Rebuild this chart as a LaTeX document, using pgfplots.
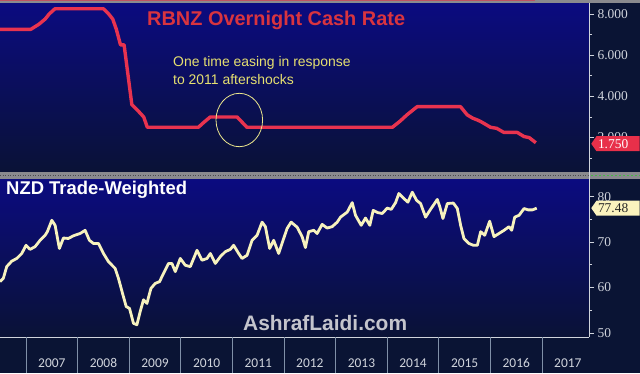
\documentclass[border=0pt]{standalone}
\usepackage{fontspec}
\setmainfont{Liberation Sans}
\newfontfamily\numfont{Liberation Serif}
\newfontfamily\yearfont{Carlito}
\usepackage{pgfplots}
\pgfplotsset{compat=1.18}
\usetikzlibrary{shapes.symbols}
\definecolor{bgnavy}{HTML}{0A1434}
\definecolor{paneltop}{HTML}{0B0B80}
\definecolor{panelbot}{HTML}{0A1236}
\definecolor{ocrred}{HTML}{E8334F}
\definecolor{titlered}{HTML}{D9343F}
\definecolor{twicream}{HTML}{F7F2BE}
\definecolor{annoyellow}{HTML}{E6E070}
\definecolor{ticktext}{HTML}{D0D4DC}
\definecolor{stripgray}{HTML}{8A8A8E}
\definecolor{sepgray}{HTML}{8090A8}
\definecolor{tagred}{HTML}{E8304A}
\definecolor{tagcream}{HTML}{FBF3BE}
\definecolor{wmgray}{HTML}{C4C4CC}
\begin{document}
\begin{tikzpicture}[x=1bp,y=1bp]
\useasboundingbox (0,0) rectangle (640,373);
\fill[bgnavy] (0,0) rectangle (640,373);
\fill[stripgray] (0,370) rectangle (640,373);
\draw[ocrred!60!gray, line width=1bp] (0,372.5) -- (535,372.5);
\fill[stripgray] (0,194) rectangle (640,201);
\draw[stripgray!55!black, line width=1.5bp, dash pattern=on 1bp off 1.5bp] (0,197.5) -- (589,197.5);
\draw[green!45!gray, line width=1.5bp, dash pattern=on 2bp off 2bp] (591,197.5) -- (640,197.5);
% ---------- top panel: RBNZ OCR ----------
\begin{axis}[
  at={(0bp,201bp)}, anchor=south west, scale only axis,
  width=589bp, height=169bp,
  xmin=2006.495, xmax=2017.91, ymin=0.33, ymax=8.53,
  axis background/.style={top color=paneltop, bottom color=panelbot},
  axis line style={draw=none},
  xtick=\empty,
  ytick={2,4,6,8}, yticklabels={2.000,4.000,6.000,8.000},
  minor ytick={1,3,5,7},
  ytick pos=right, yticklabel pos=right,
  tick align=outside,
  major tick length=5bp, minor tick length=3bp,
  tick style={color=ticktext, line width=0.8bp},
  yticklabel style={font=\numfont\fontsize{13.5}{14}\selectfont, text=ticktext},
  clip=false,
]
\addplot[ocrred, line width=3.4bp, line join=round] coordinates {
(2006.495,7.25)(2007.09,7.25)(2007.25,7.5)(2007.37,7.75)(2007.45,8.0)(2007.56,8.25)
(2008.50,8.25)(2008.60,8.0)(2008.68,7.75)(2008.75,7.25)(2008.83,6.5)(2008.90,6.5)
(2009.05,3.6)(2009.17,3.3)(2009.28,3.0)(2009.35,2.5)(2010.34,2.5)(2010.45,2.75)
(2010.57,3.0)(2011.09,3.0)(2011.28,2.5)(2014.10,2.5)(2014.25,2.8)(2014.38,3.1)
(2014.58,3.5)(2015.42,3.5)(2015.55,3.1)(2015.65,2.95)(2015.75,2.85)(2015.81,2.78)
(2015.90,2.65)(2016.00,2.5)(2016.12,2.45)(2016.26,2.25)(2016.52,2.25)(2016.65,2.05)
(2016.75,2.0)(2016.88,1.75)
};
\draw[ticktext, line width=0.8bp] (rel axis cs:1,0) -- (rel axis cs:1,1);
\node[signal, signal to=west, signal pointer angle=110, fill=tagred, text=white,
  font=\numfont\fontsize{13.5}{14}\selectfont, inner sep=1.5bp, minimum height=15bp,
  anchor=west, text width=40bp] at ([xshift=2bp,yshift=-1bp]axis cs:2017.91,1.75) {1.750};
\end{axis}
% ---------- bottom panel: NZD TWI ----------
\begin{axis}[
  at={(0bp,36bp)}, anchor=south west, scale only axis,
  width=589bp, height=158bp,
  xmin=2006.495, xmax=2017.91, ymin=49.1, ymax=83.9,
  axis background/.style={top color=paneltop, bottom color=panelbot},
  axis line style={draw=none},
  xtick={2007.5,2008.5,2009.5,2010.5,2011.5,2012.5,2013.5,2014.5,2015.5,2016.5,2017.5},
  xticklabels={2007,2008,2009,2010,2011,2012,2013,2014,2015,2016,2017},
  xtick style={draw=none},
  xticklabel style={font=\yearfont\fontsize{13.5}{14}\selectfont, text=ticktext, anchor=center, yshift=-21bp},
  ytick={50,60,70,80}, yticklabels={50,60,70,80},
  minor ytick={55,65,75},
  ytick pos=right, yticklabel pos=right,
  tick align=outside,
  major tick length=5bp, minor tick length=3bp,
  ytick style={color=ticktext, line width=0.8bp},
  yticklabel style={font=\numfont\fontsize{13.5}{14}\selectfont, text=ticktext},
  clip=false,
]
\addplot[twicream, line width=2.8bp, line join=round] coordinates {
(2006.495,61.3)(2006.559,62.0)(2006.625,64.6)(2006.722,65.8)(2006.820,66.4)(2006.917,67.5)
(2007.000,69.3)(2007.078,68.4)(2007.175,69.0)(2007.272,70.4)(2007.369,71.5)(2007.413,72.3)
(2007.499,74.8)(2007.563,73.7)(2007.646,68.6)(2007.724,70.9)(2007.821,70.8)(2007.918,71.4)
(2008.048,71.9)(2008.145,72.6)(2008.228,70.4)(2008.306,69.7)(2008.403,69.7)(2008.500,67.5)
(2008.597,65.7)(2008.727,64.2)(2008.791,62.0)(2008.877,58.4)(2008.941,55.8)(2009.005,55.4)
(2009.082,52.1)(2009.148,51.8)(2009.212,54.7)(2009.276,57.3)(2009.342,56.5)(2009.420,59.8)
(2009.503,60.9)(2009.587,61.3)(2009.664,63.1)(2009.762,65.3)(2009.827,65.3)(2009.892,63.5)
(2009.989,66.4)(2010.086,64.9)(2010.183,64.6)(2010.313,68.2)(2010.410,66.0)(2010.507,66.4)
(2010.571,67.5)(2010.668,65.3)(2010.765,66.8)(2010.862,67.9)(2010.959,68.4)(2011.023,69.3)
(2011.120,67.5)(2011.186,66.4)(2011.283,67.1)(2011.380,70.4)(2011.477,71.5)(2011.574,74.4)
(2011.638,73.4)(2011.721,68.6)(2011.799,70.4)(2011.896,67.5)(2011.993,70.8)(2012.059,73.0)
(2012.137,74.4)(2012.253,73.3)(2012.350,71.2)(2012.414,68.8)(2012.478,72.3)(2012.575,72.6)
(2012.641,71.9)(2012.738,73.9)(2012.835,73.1)(2012.932,73.4)(2013.030,74.4)(2013.094,75.5)
(2013.224,76.6)(2013.321,78.7)(2013.385,75.9)(2013.495,73.7)(2013.579,75.3)(2013.662,73.7)
(2013.728,77.0)(2013.817,76.5)(2013.903,76.3)(2014.000,77.5)(2014.077,77.2)(2014.161,78.7)
(2014.225,80.7)(2014.322,79.6)(2014.400,78.8)(2014.485,81.0)(2014.568,79.2)(2014.646,78.5)
(2014.743,75.5)(2014.826,77.0)(2014.892,78.1)(2014.970,79.4)(2015.021,77.7)(2015.079,75.2)
(2015.164,78.5)(2015.281,78.6)(2015.358,77.4)(2015.422,73.7)(2015.486,70.8)(2015.583,69.7)
(2015.669,69.3)(2015.746,69.3)(2015.810,72.3)(2015.888,71.5)(2015.985,74.6)(2016.068,71.2)
(2016.165,71.9)(2016.263,72.6)(2016.360,73.4)(2016.412,72.6)(2016.470,75.5)(2016.554,75.9)
(2016.651,77.4)(2016.729,77.1)(2016.815,77.1)(2016.897,77.48)
};
\draw[ticktext, line width=0.8bp] (rel axis cs:1,0) -- (rel axis cs:1,1);
\draw[ticktext, line width=0.8bp] (rel axis cs:0,0) -- (rel axis cs:1,0);
\pgfplotsinvokeforeach{2007,2008,2009,2010,2011,2012,2013,2014,2015,2016,2017}{
  \draw[sepgray, line width=0.8bp] (axis cs:#1,49.1) -- ([yshift=-36bp]axis cs:#1,49.1);
}
\node[signal, signal to=west, signal pointer angle=110, fill=tagcream, text=black!85,
  font=\numfont\fontsize{13.5}{14}\selectfont, inner sep=1.5bp, minimum height=15bp,
  anchor=west, text width=40bp] at ([xshift=2bp]axis cs:2017.91,77.48) {77.48};
\end{axis}
\draw[ticktext, line width=0.8bp] (589,194) -- (589,201);
% ---------- texts ----------
\node[anchor=west, inner sep=0, text=titlered, font=\bfseries\fontsize{20}{22}\selectfont] at (147,352.3) {RBNZ Overnight Cash Rate};
\node[anchor=west, inner sep=0, text=annoyellow, align=left, font=\fontsize{14}{18.3}\selectfont] at (173,302.2) {One time easing in response\\to 2011 aftershocks};
\draw[annoyellow!80!white, line width=0.8bp] (239.3,253) ellipse [x radius=23.3, y radius=26.7];
\node[anchor=west, inner sep=0, text=white, font=\bfseries\fontsize{18.5}{20}\selectfont] at (6,183.3) {NZD Trade-Weighted};
\node[anchor=west, inner sep=0, text=wmgray, font=\bfseries\fontsize{21}{23}\selectfont] at (243,49.7) {AshrafLaidi.com};
\end{tikzpicture}
\end{document}
